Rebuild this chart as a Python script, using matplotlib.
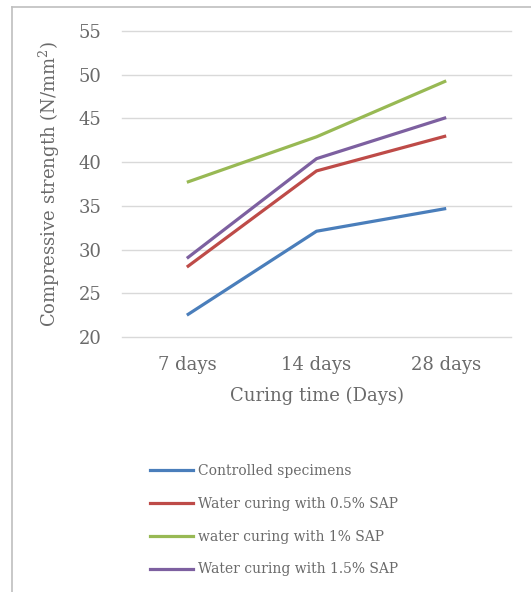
import matplotlib.pyplot as plt
from matplotlib.lines import Line2D

# --- Data ---
ages = ["7 days", "14 days", "28 days"]
controlled = [22.5, 32.1, 34.7]
sap_05 = [28.0, 39.0, 43.0]
sap_10 = [37.7, 42.9, 49.3]
sap_15 = [29.0, 40.4, 45.1]
labels = ["Controlled specimens", "Water curing with 0.5% SAP",
          "water curing with 1% SAP", "Water curing with 1.5% SAP"]
colors = ["#4a7ebb", "#be4b48", "#98b954", "#7d60a0"]
yticks = [20, 25, 30, 35, 40, 45, 50, 55]

plt.rcParams["font.family"] = ["DejaVu Serif"]
plt.rcParams["mathtext.fontset"] = "dejavuserif"
txt = "#6a6a6a"

fig = plt.figure(figsize=(5.31, 5.92), dpi=100)
ax = fig.add_axes([0.2298, 0.4307, 0.7326, 0.5169])

x = range(len(ages))
series = [controlled, sap_05, sap_10, sap_15]
for vals, c in zip(series, colors):
    ax.plot(x, vals, color=c, lw=2.3, solid_capstyle="butt")

ax.set_xlim(-0.5, len(ages) - 0.5)
ax.set_ylim(20, 55)
ax.set_yticks(yticks)
ax.set_xticks(list(x))
ax.set_xticklabels(ages)
ax.yaxis.grid(True, color="#d9d9d9", lw=1)
for gl in ax.get_ygridlines():
    gl.set_clip_on(False)
ax.set_axisbelow(True)
for s in ax.spines.values():
    s.set_visible(False)
ax.tick_params(length=0, labelsize=13, colors=txt)
ax.tick_params(axis="y", pad=15)
ax.tick_params(axis="x", pad=14)
ax.set_xlabel("Curing time (Days)", fontsize=13, color=txt, labelpad=9)
ax.set_ylabel("Compressive strength (N/mm$^2$)", fontsize=13, color=txt, labelpad=12)

# --- Legend ---
handles = [Line2D([], [], color=c, lw=2.3) for c in colors]
fig.legend(handles, labels, loc="upper left", bbox_to_anchor=(0.2825, 0.2165),
           frameon=False, fontsize=10, labelcolor=txt, handlelength=3.1,
           handletextpad=0.36, labelspacing=1.36, borderpad=0, borderaxespad=0)

# --- Outer border (left and top visible) ---
fig.add_artist(Line2D([0.022, 0.022], [0.0, 0.988], color="#bfbfbf", lw=1.2))
fig.add_artist(Line2D([0.022, 1.0], [0.988, 0.988], color="#bfbfbf", lw=1.2))

fig.savefig("out.png", dpi=100)
